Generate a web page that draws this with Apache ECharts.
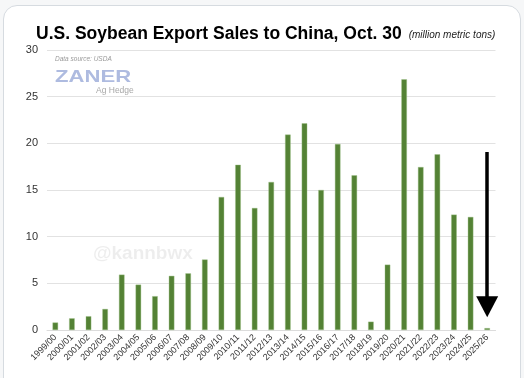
<!DOCTYPE html>
<html><head><meta charset="utf-8">
<script src="https://cdn.jsdelivr.net/npm/echarts@6/dist/echarts.min.js"></script>
<style>
html,body{margin:0;padding:0;background:#f6f7f8;width:524px;height:378px;overflow:hidden;}
#card{position:absolute;left:3px;top:5px;width:516px;height:400px;background:#fff;border:1px solid #d6dbe0;border-radius:14px;}
#c{position:absolute;left:0;top:0;width:524px;height:378px;}
</style></head><body>
<div id="card"></div>
<div id="c"></div>
<script>
const categories = ['1999/00','2000/01','2001/02','2002/03','2003/04','2004/05','2005/06','2006/07','2007/08','2008/09','2009/10','2010/11','2011/12','2012/13','2013/14','2014/15','2015/16','2016/17','2017/18','2018/19','2019/20','2020/21','2021/22','2022/23','2023/24','2024/25','2025/26'];
const sales = [0.8,1.25,1.47,2.25,5.93,4.86,3.62,5.8,6.07,7.55,14.25,17.7,13.07,15.86,20.93,22.14,15.0,19.93,16.57,0.89,7.0,26.86,17.46,18.82,12.36,12.11,0.2];
const yTicks = [0,5,10,15,20,25,30];
const arrowFrom = 19.07, arrowTo = 2.5;

const chart = echarts.init(document.getElementById('c'), null, {renderer:'canvas'});
chart.setOption({
  animation:false,
  backgroundColor:'transparent',
  textStyle:{fontFamily:'Liberation Sans, Arial, sans-serif'},
  title:{
    left:36, top:25, padding:0,
    text:'{a|U.S. Soybean Export Sales to China, Oct. 30} {b|(million metric tons)}',
    textStyle:{rich:{
      a:{fontSize:17.5,fontWeight:'bold',color:'#000',fontFamily:'Liberation Sans, Arial, sans-serif'},
      b:{fontSize:10,fontWeight:'normal',fontStyle:'italic',color:'#222',fontFamily:'Liberation Sans, Arial, sans-serif',padding:[3,0,0,2]}
    }}
  },
  grid:{left:47,right:28.5,top:50,bottom:48,containLabel:false},
  xAxis:{
    type:'category',data:categories,
    axisTick:{show:false},
    axisLine:{show:true,lineStyle:{color:'#dcdcdc'}},
    axisLabel:{rotate:45,fontSize:9,color:'#333',interval:0,margin:6}
  },
  yAxis:{
    type:'value',min:yTicks[0],max:yTicks[yTicks.length-1],interval:5,
    axisLabel:{fontSize:11,color:'#333',margin:9},
    splitLine:{lineStyle:{color:'#e2e2e2'}}
  },
  graphic:[
    {type:'text',left:55,top:56,style:{text:'Data source: USDA',fontSize:6.5,fontStyle:'italic',fill:'#9a9a9a',fontFamily:'Liberation Sans, Arial, sans-serif'}},
    {type:'text',x:55,y:69,scaleX:1.3,style:{text:'ZANER',fontSize:17,fontWeight:'bold',fill:'#aebbe0',fontFamily:'Liberation Sans, Arial, sans-serif'}},
    {type:'text',left:96,top:86,style:{text:'Ag Hedge',fontSize:8.5,fill:'#a8a8a8',fontFamily:'Liberation Sans, Arial, sans-serif'}},
    {type:'text',left:93,top:244,style:{text:'@kannbwx',fontSize:19,fontWeight:'bold',fill:'rgba(0,0,0,0.07)',fontFamily:'Liberation Sans, Arial, sans-serif'}}
  ],
  series:[{
    type:'bar',data:sales,barWidth:5.5,
    itemStyle:{color:'#548235',borderColor:'#9cbf86',borderWidth:0.4},
    markLine:{
      silent:true,
      symbol:['none','triangle'],
      symbolSize:[22,21],
      label:{show:false},
      lineStyle:{color:'#000',width:3.5,type:'solid'},
      itemStyle:{color:'#000'},
      data:[[{coord:[categories[categories.length-1],arrowFrom]},{coord:[categories[categories.length-1],arrowTo]}]]
    }
  }]
});
</script>
</body></html>
